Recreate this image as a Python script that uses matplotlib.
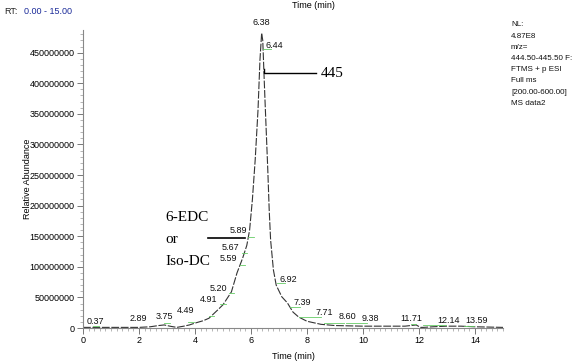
import matplotlib
matplotlib.use("Agg")
import matplotlib.pyplot as plt
from matplotlib.ticker import MultipleLocator, FixedLocator

# ---- data ----
times = [0.0, 0.5, 1.0, 1.5, 2.0, 2.4, 2.7, 2.9, 3.1, 3.35, 3.6, 3.8, 4.0, 4.3, 4.5,
         4.8, 5.0, 5.3, 5.5, 5.7, 5.85, 5.95, 6.05, 6.15, 6.25, 6.32, 6.38, 6.42,
         6.46, 6.5, 6.55, 6.6, 6.65, 6.7, 6.8, 6.9, 7.1, 7.3, 7.5, 7.7, 8.0, 8.5,
         9.0, 10.0, 11.0, 11.5, 11.9, 12.05, 12.15, 12.5, 13.0, 13.5, 14.0, 15.0]
abundance = [1, 1, 1, 1, 1, 2, 4, 5, 3, 1, 3, 5, 8, 12, 16,
             29, 38, 59, 90, 114, 135, 160, 210, 275, 356, 438, 482, 470,
             420, 372, 315, 258, 193, 144, 95, 70, 51, 41, 26, 18, 11, 6,
             4, 3, 3, 3, 5, 1, 1, 2, 3, 3, 2, 1]
abundance = [v * 1e6 for v in abundance]

peak_times = ["0.37", "2.89", "3.75", "4.49", "4.91", "5.20", "5.59", "5.67", "5.89",
              "6.38", "6.44", "6.92", "7.39", "7.71", "8.60", "9.38", "11.71", "12.14", "13.59"]
peak_heights = [3, 8, 10, 20, 39, 57, 103, 122, 149,
                482, 456, 73, 34, 18, 8, 8, 6, 5, 4]
peak_heights = [v * 1e6 for v in peak_heights]

# label placement (layout)
label_x = [0.43, 1.96, 2.89, 3.68, 4.47, 4.82, 5.18, 5.26, 5.54,
           6.36, 6.82, 7.32, 7.84, 8.60, 9.43, 10.26, 11.71, 13.07, 14.07]
label_y = [11, 15, 18, 28, 46, 65, 113, 132, 160,
           500, 462, 80, 42, 26, 18, 15, 15, 13, 13]

yticks = [0, 50000000, 100000000, 150000000, 200000000, 250000000,
          300000000, 350000000, 400000000, 450000000]
xticks = [0, 2, 4, 6, 8, 10, 12, 14]

info_lines = ["NL:", "4.87E8", "m/z=", "444.50-445.50 F:", "FTMS + p ESI",
              "Full ms", "[200.00-600.00]", "MS data2"]

plt.rcParams['font.family'] = ['Liberation Sans', 'DejaVu Sans']

fig = plt.figure(figsize=(5.73, 3.64), dpi=100)
ax = fig.add_axes([83/573, 1-328/364, 420/573, 298/364])

ax.plot(times, abundance, color='#333333', lw=0.8, linestyle=(0, (7, 1.5)))

ax.set_xlim(0, 15)
ax.set_ylim(0, 4.87e8)

for s in ['top', 'right']:
    ax.spines[s].set_visible(False)
for s in ['left', 'bottom']:
    ax.spines[s].set_color('#888888')
    ax.spines[s].set_linewidth(0.8)

ax.yaxis.set_major_locator(FixedLocator(yticks))
ax.set_yticklabels([str(v) for v in yticks])
ax.yaxis.set_minor_locator(MultipleLocator(1e7))
ax.xaxis.set_major_locator(FixedLocator(xticks))
ax.set_xticklabels([str(v) for v in xticks])
ax.xaxis.set_minor_locator(MultipleLocator(0.2))
ax.tick_params(axis='both', which='major', labelsize=6.5, length=4, width=0.7,
               color='#777777', pad=2)
ax.tick_params(axis='both', which='minor', length=2, width=0.5, color='#999999')

ax.set_ylabel("Relative Abundance", fontsize=6.5)
ax.yaxis.set_label_coords(-(83 - 32) / 420, 0.5)
ax.set_xlabel("Time (min)", fontsize=6.5, labelpad=5)
fig.text(313/573, 1-5/364, "Time (min)", fontsize=6.5, ha='center', va='center')

fig.text(4/573, 1-12/364, "RT:", fontsize=6.5, ha='left', va='center', color='#222222')
fig.text(24/573, 1-12/364, "0.00 - 15.00", fontsize=6.5, ha='left', va='center', color='#1a2a99')

for i, line in enumerate(info_lines):
    fig.text(511/573, 1-(25 + i*11.2)/364, line, fontsize=5.8, ha='left', va='center',
             color='#111111')

# peak labels
for lab, h, lx, ly in zip(peak_times, peak_heights, label_x, label_y):
    t = float(lab)
    if lab != "6.38":
        ax.plot([t, max(lx - 0.1, t + 0.2)], [h, h], color='#66cc66', lw=0.6)
    ax.text(lx, ly * 1e6, lab, ha='center', va='center', fontsize=6.5,
            color='#111111', clip_on=False)

# compound annotations
ax.plot([6.46, 6.46, 8.32], [423e6, 416e6, 416e6], color='black', lw=1.0)
ax.text(8.5, 416e6, "445", fontsize=11, family='Liberation Serif', va='center', ha='left')

ax.plot([4.46, 5.79], [147e6, 147e6], color='black', lw=1.2)
ax.text(2.95, 180e6, "6-EDC", fontsize=11, family='Liberation Serif', va='center', ha='left')
ax.text(2.95, 144e6, "or", fontsize=11, family='Liberation Serif', va='center', ha='left')
ax.text(2.95, 108e6, "Iso-DC", fontsize=11, family='Liberation Serif', va='center', ha='left')

fig.savefig("out.png", dpi=100)
